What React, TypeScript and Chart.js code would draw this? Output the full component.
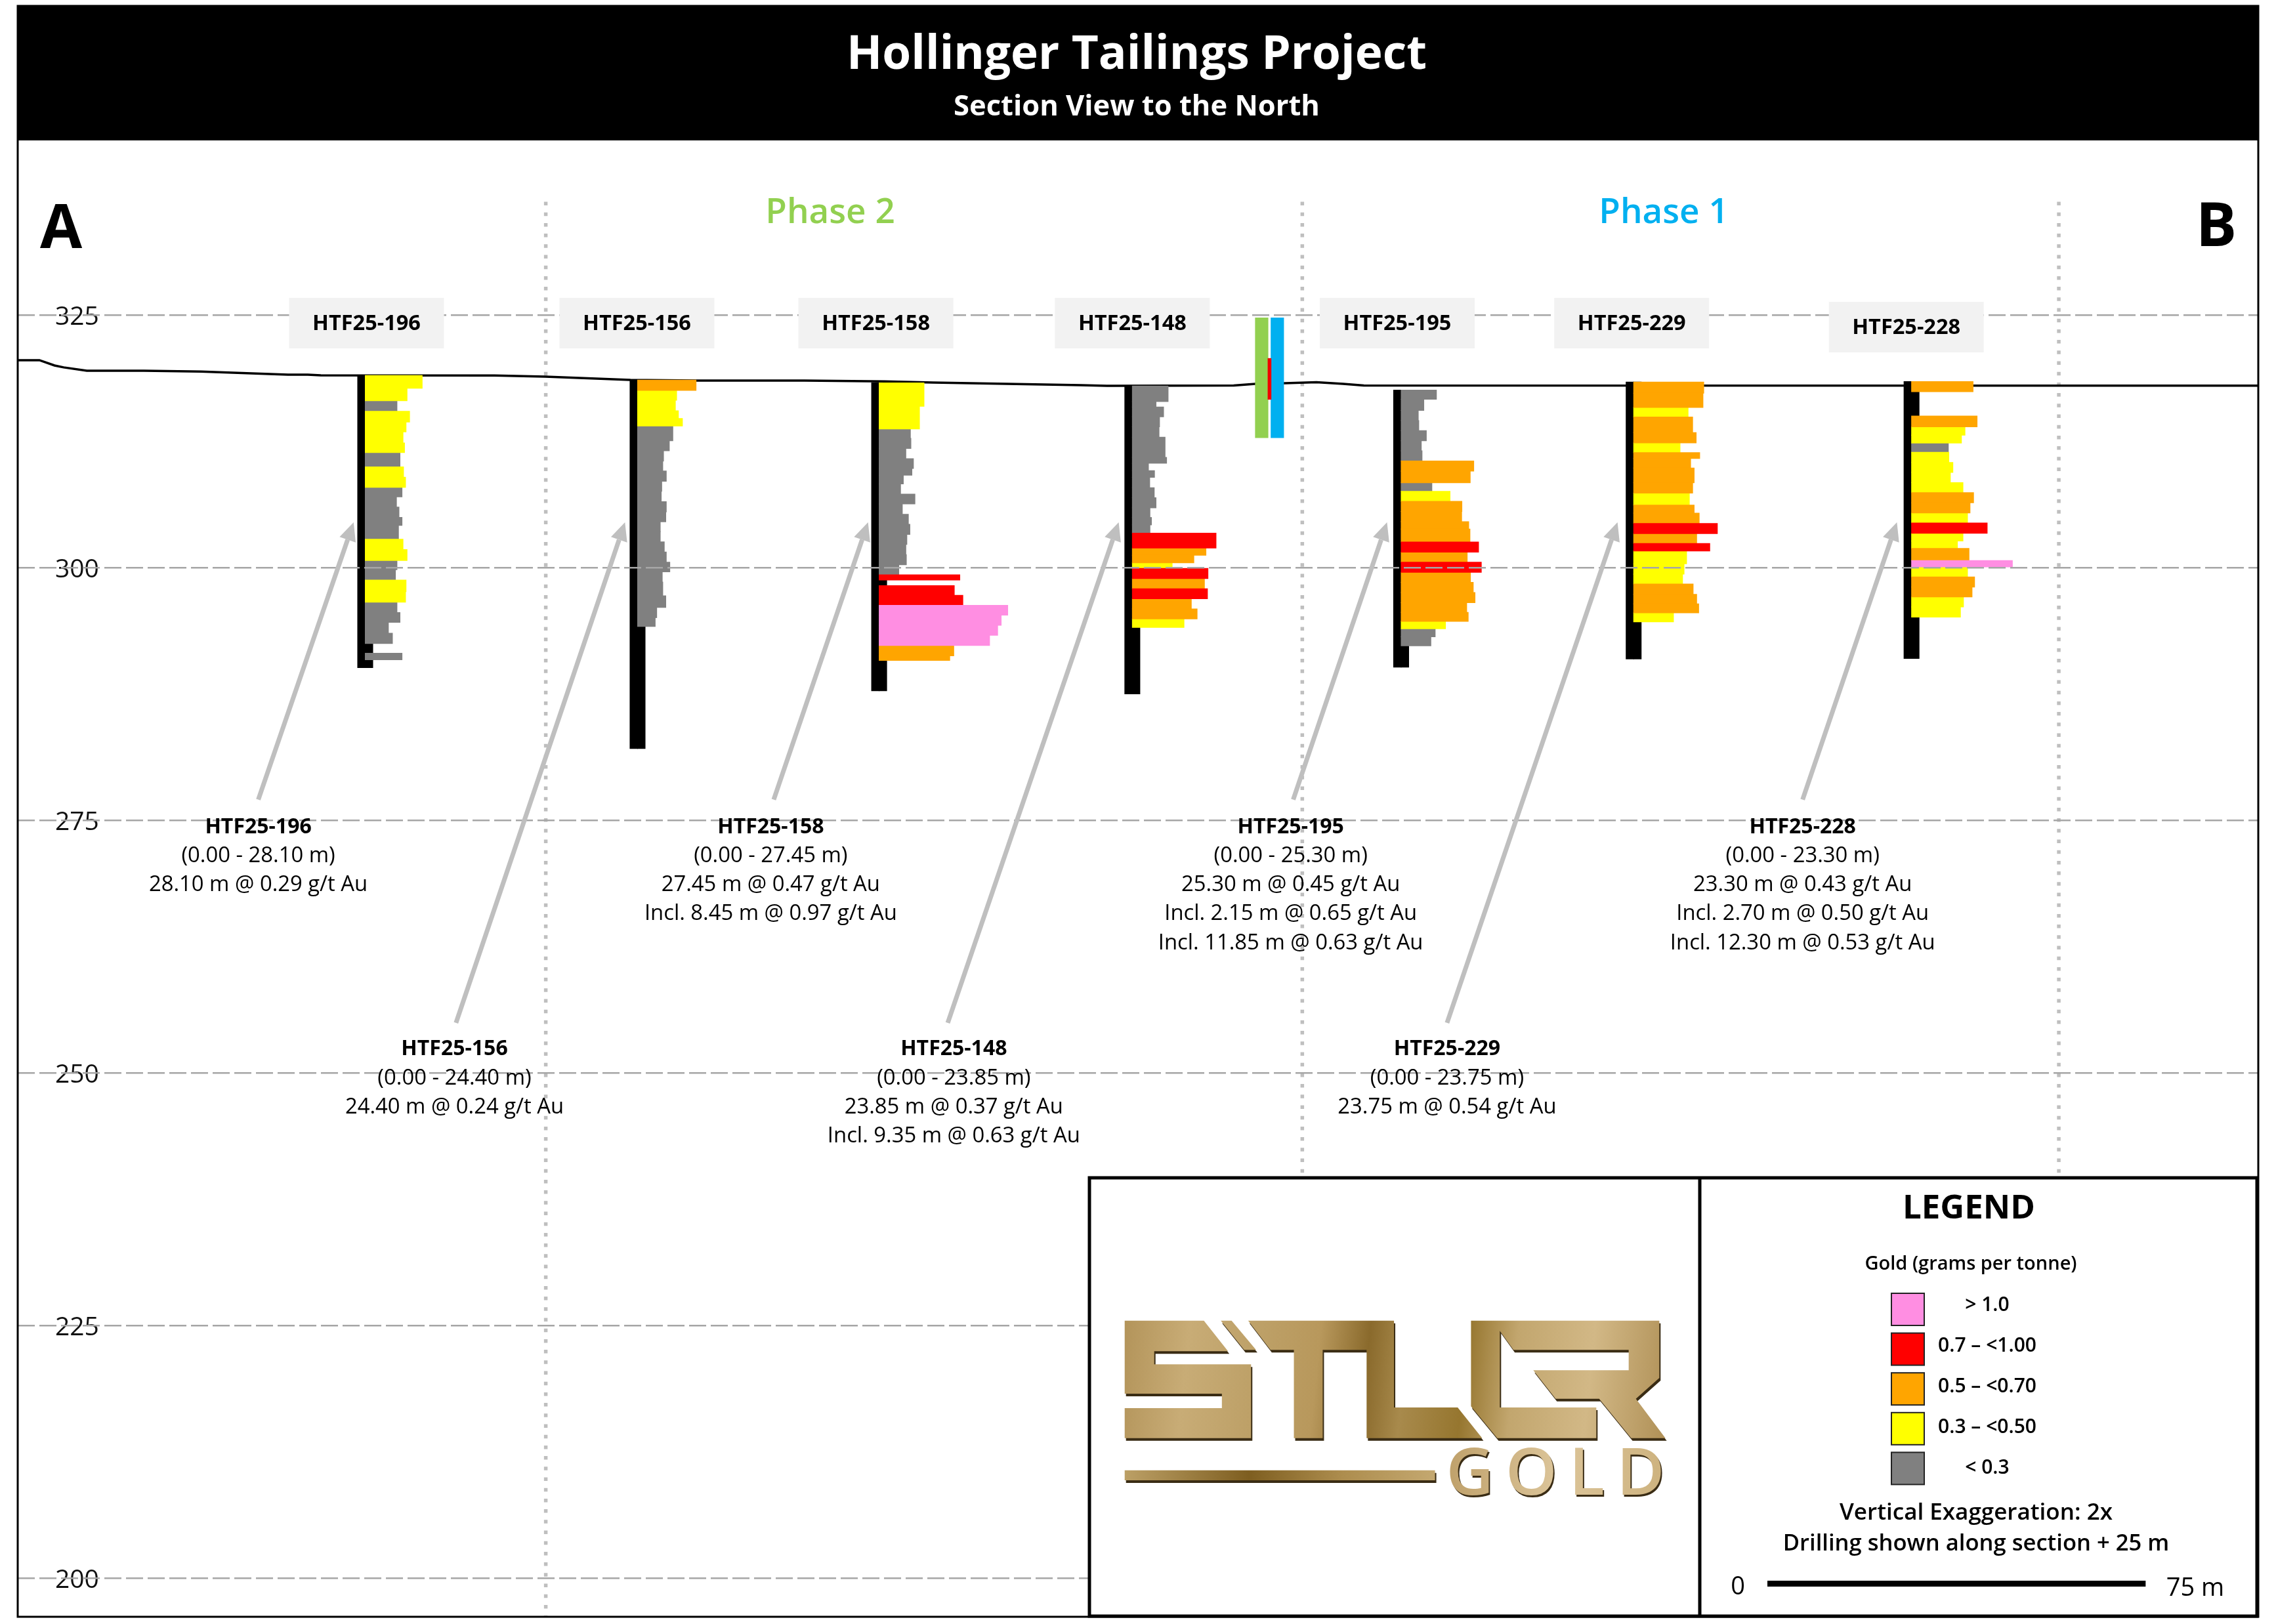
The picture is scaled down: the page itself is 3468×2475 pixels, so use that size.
import React, { useEffect, useRef } from "react";
import { Chart, BarController, registerables } from "chart.js";

// ---------- axis ticks and section lines ----------
const elevationTicks = [325, 300, 275, 250, 225, 200];
const sectionLines = [150, 300, 450];

// ---------- drill holes ----------
const holeNames = ["HTF25-196", "HTF25-156", "HTF25-158", "HTF25-148", "HTF25-195", "HTF25-229", "HTF25-228"];
const holeStation = [114.2, 168.2, 216.1, 266.3, 319.6, 365.7, 420.8];
const holeCollar = [319.0, 318.55, 318.27, 317.97, 317.56, 318.36, 318.4];
const holeBottom = [290.1, 282.1, 287.8, 287.5, 290.14, 290.95, 291.0];

// interval thickness (m), plotted length, grade class (p r o y g, - = no assay)
const h196Thick = [1.26, 1.23, 1.04, 1.08, 0.97, 1.08, 0.97, 1.41, 1.02, 1.0, 0.95, 1.0, 1.02, 0.8, 1.36, 1.02, 1.1, 0.91, 1.02, 1.15, 1.04, 1.02, 0.97, 1.08, 1.02, 0.95, 0.65];
const h196Len = [11.3, 8.3, 6.3, 8.8, 8.1, 7.5, 7.8, 6.9, 7.6, 8.0, 7.3, 6.2, 6.7, 7.3, 6.6, 7.5, 8.3, 6.3, 6.0, 8.1, 8.0, 6.3, 6.9, 4.6, 5.4, 0, 7.3];
const h196Class = "yygyyyygyygggggyyggyygggg-g";

const h156Thick = [1.02, 0.97, 1.04, 0.76, 0.76, 1.45, 1.0, 1.02, 0.97, 1.02, 1.0, 1.02, 1.02, 0.97, 0.97, 1.02, 1.0, 1.0, 0.97, 1.0, 1.36, 1.15, 1.02, 0.87];
const h156Len = [11.6, 7.75, 7.5, 8.1, 8.9, 7.0, 6.3, 5.15, 5.0, 5.7, 4.8, 4.7, 5.7, 5.6, 4.5, 4.5, 5.3, 5.7, 6.4, 4.9, 5.0, 5.6, 3.8, 3.5];
const h156Class = "oyyyyggggggggggggggggggg";

const h158Thick = [2.32, 2.23, 0.93, 1.0, 1.02, 0.97, 0.67, 0.86, 1.0, 0.97, 1.02, 1.0, 1.0, 1.0, 1.0, 1.0, 1.0, 0.51, 0.56, 0.95, 1.0, 0.97, 1.0, 1.0, 1.0, 1.02, 0.46];
const h158Len = [8.9, 8.0, 6.2, 6.3, 5.3, 6.8, 6.5, 4.8, 4.25, 7.1, 4.6, 5.8, 6.1, 5.5, 5.3, 5.4, 3.9, 16.0, 0, 14.9, 16.6, 25.5, 24.2, 23.5, 21.9, 14.8, 14.0];
const h158Class = "yygggggggggggggggr-rrppppoo";

const h148Thick = [1.55, 0.53, 0.97, 1.0, 1.02, 2.0, 0.58, 0.72, 0.67, 1.02, 1.0, 1.0, 0.95, 0.74, 0.81, 1.48, 0.72, 0.74, 0.56, 1.0, 1.0, 1.0, 1.0, 1.0, 0.84];
const h148Len = [7.1, 4.7, 6.2, 5.4, 5.3, 6.5, 6.8, 3.2, 4.4, 3.45, 4.35, 4.7, 3.5, 3.8, 3.5, 16.6, 14.6, 12.2, 7.9, 15.0, 14.3, 14.9, 11.7, 12.85, 10.25];
const h148Class = "gggggggggggggggrooyrorooy";

const h195Thick = [0.9, 1.11, 1.0, 1.0, 1.0, 1.0, 1.0, 1.0, 1.16, 0.84, 1.0, 1.0, 1.0, 0.74, 1.28, 1.0, 1.0, 1.0, 1.0, 1.0, 1.0, 0.97, 0.88, 0.74, 0.79, 0.9];
const h195Len = [7.0, 4.5, 3.4, 3.5, 5.0, 4.0, 4.15, 14.4, 13.7, 6.1, 9.7, 12.05, 12.0, 13.4, 13.65, 15.35, 13.1, 15.9, 13.75, 14.3, 14.65, 13.0, 13.3, 8.8, 6.75, 5.9];
const h195Class = "gggggggoogyoooororoooooygg";

const h229Thick = [1.1, 1.41, 0.95, 1.54, 1.02, 0.97, 0.58, 0.93, 1.47, 1.02, 1.19, 0.8, 1.02, 1.0, 0.97, 0.76, 1.26, 1.02, 0.97, 1.02, 0.95, 0.89, 0.89];
const h229Len = [13.9, 13.75, 10.8, 11.7, 12.4, 9.2, 13.1, 11.3, 12.0, 11.7, 11.05, 12.0, 13.0, 16.6, 12.5, 15.1, 10.5, 10.0, 9.7, 11.8, 12.5, 12.9, 7.9];
const h229Class = "ooyooyooooyoororyyyoooy";

const h228Thick = [1.0, 2.4, 1.08, 0.82, 0.78, 0.91, 1.0, 1.0, 1.0, 1.0, 1.0, 1.0, 1.0, 1.02, 0.76, 0.74, 1.19, 0.63, 1.0, 1.0, 0.97, 1.0, 1.0];
const h228Len = [12.2, 0, 13.0, 10.6, 9.9, 7.3, 7.4, 8.2, 7.7, 10.2, 12.3, 11.6, 11.1, 15.0, 10.2, 9.1, 11.4, 20.0, 11.1, 12.5, 12.0, 10.3, 9.7];
const h228Class = "o-oyygyyyyooyryyopyooyy";

const holeThick = [h196Thick, h156Thick, h158Thick, h148Thick, h195Thick, h229Thick, h228Thick];
const holeLen = [h196Len, h156Len, h158Len, h148Len, h195Len, h229Len, h228Len];
const holeClass = [h196Class, h156Class, h158Class, h148Class, h195Class, h229Class, h228Class];

// ---------- topographic surface ----------
const surfaceStation = [45.3, 49.6, 52.6, 54.4, 59.0, 70.3, 81.6, 98.9, 102.8, 105.4, 139.8, 149.9, 166.8, 180, 201.3, 217.2, 226.8, 256.1, 261.3, 286.4, 290.7, 296.6, 302.8, 308.1, 312.2, 489.6];
const surfaceElev = [320.52, 320.52, 320.0, 319.81, 319.48, 319.48, 319.39, 319.09, 319.09, 319.03, 319.01, 318.9, 318.57, 318.51, 318.51, 318.42, 318.31, 318.05, 317.99, 318.02, 318.18, 318.25, 318.34, 318.18, 318.02, 318.0];

// ---------- callouts ----------
const calloutLines = [
  ["HTF25-196", "(0.00 - 28.10 m)", "28.10 m @ 0.29 g/t Au"],
  ["HTF25-156", "(0.00 - 24.40 m)", "24.40 m @ 0.24 g/t Au"],
  ["HTF25-158", "(0.00 - 27.45 m)", "27.45 m @ 0.47 g/t Au", "Incl. 8.45 m @ 0.97 g/t Au"],
  ["HTF25-148", "(0.00 - 23.85 m)", "23.85 m @ 0.37 g/t Au", "Incl. 9.35 m @ 0.63 g/t Au"],
  ["HTF25-195", "(0.00 - 25.30 m)", "25.30 m @ 0.45 g/t Au", "Incl. 2.15 m @ 0.65 g/t Au", "Incl. 11.85 m @ 0.63 g/t Au"],
  ["HTF25-229", "(0.00 - 23.75 m)", "23.75 m @ 0.54 g/t Au"],
  ["HTF25-228", "(0.00 - 23.30 m)", "23.30 m @ 0.43 g/t Au", "Incl. 2.70 m @ 0.50 g/t Au", "Incl. 12.30 m @ 0.53 g/t Au"],
];
const calloutTextX = [93.0, 131.9, 194.6, 230.9, 297.7, 328.7, 399.2];
const calloutTextElev = [274.45, 252.47, 274.45, 252.47, 274.45, 252.47, 274.45];
const arrowTipX = [111.9, 165.7, 213.9, 263.6, 316.8, 362.5, 417.9];
const arrowTailX = [93.0, 132.2, 195.2, 229.7, 298.2, 328.7, 399.2];
const arrowTailElev = [277.04, 254.94, 277.04, 254.94, 277.04, 254.94, 277.04];
const arrowTipElev = 304.48;

// ---------- legend ----------
const legendLabels = ["> 1.0", "0.7 – <1.00", "0.5 – <0.70", "0.3 – <0.50", "< 0.3"];
const classKeys = ["p", "r", "o", "y", "g"];
const classColors: Record<string, string> = { p: "#FF8EE2", r: "#FF0000", o: "#FFA500", y: "#FFFF00", g: "#808080" };

// ---------- small phase key near the section ----------
const phaseKey = [
  { name: "Phase 2 key", color: "#92D050", x: [290.7, 293.2], top: 324.7, bot: 312.86 },
  { name: "Boundary", color: "#F00000", x: [293.2, 293.8], top: 320.69, bot: 316.65 },
  { name: "Phase 1 key", color: "#00B0F0", x: [293.8, 296.3], top: 324.7, bot: 312.86 },
];

const TRACE_W = 1.5;
const FONT = '"Open Sans"';

class IntervalController extends BarController {
  static id = "interval";
  _calculateBarIndexPixels(index: number) {
    const s = (this as any)._cachedMeta.iScale;
    const d = (this as any).getDataset().data[index];
    const a = s.getPixelForValue(d.top);
    const b = s.getPixelForValue(d.bot);
    return { base: Math.min(a, b), head: Math.max(a, b), center: (a + b) / 2, size: Math.abs(b - a) };
  }
}
Chart.register(...registerables, IntervalController as any);

function buildIntervals() {
  const byClass: Record<string, any[]> = { p: [], r: [], o: [], y: [], g: [] };
  holeNames.forEach((_, h) => {
    let top = holeCollar[h];
    holeThick[h].forEach((t, i) => {
      const c = holeClass[h][i];
      const bot = top - t;
      if (c !== "-" && holeLen[h][i] > 0) {
        byClass[c].push({ x: [holeStation[h], holeStation[h] + holeLen[h][i]], y: (top + bot) / 2, top, bot });
      }
      top = bot;
    });
  });
  return byClass;
}

function txt(ctx: CanvasRenderingContext2D, s: string, x: number, y: number, font: string, color: string, align: CanvasTextAlign = "center") {
  ctx.font = font;
  ctx.fillStyle = color;
  ctx.textAlign = align;
  ctx.textBaseline = "middle";
  ctx.fillText(s, x, y);
}

function drawLogo(ctx: CanvasRenderingContext2D) {
  const X = (z: number) => 1700 + z / 1.823;
  const Y = (z: number) => 2000 + z / 3;
  const polys = [
    [[25, 38], [245, 38], [312, 178], [107, 178], [107, 238], [376, 238], [376, 575], [25, 575], [25, 438], [295, 438], [295, 372], [25, 372]],
    [[292, 38], [322, 38], [390, 172], [357, 172]],
    [[368, 38], [773, 38], [773, 435], [950, 435], [1018, 575], [697, 575], [697, 172], [575, 172], [575, 575], [495, 575], [495, 172], [430, 172]],
    [[987, 38], [1510, 38], [1510, 300], [1445, 395], [1527, 575], [1432, 575], [1343, 395], [1222, 395], [1160, 265], [1425, 265], [1425, 172], [1105, 172], [1067, 85], [1067, 435], [1335, 435], [1335, 575], [1060, 575], [987, 430]],
  ];
  const bar = [[25, 722], [887, 722], [887, 768], [25, 768]];
  const g = ctx.createLinearGradient(X(25), Y(38), X(1530), Y(300));
  g.addColorStop(0, "#B3945A");
  g.addColorStop(0.12, "#C8AC76");
  g.addColorStop(0.25, "#BDA067");
  g.addColorStop(0.36, "#B8985C");
  g.addColorStop(0.45, "#8A6A2C");
  g.addColorStop(0.52, "#A88A4C");
  g.addColorStop(0.63, "#96762F");
  g.addColorStop(0.72, "#C2A66E");
  g.addColorStop(0.86, "#D2B886");
  g.addColorStop(1, "#B2935A");
  const gb = ctx.createLinearGradient(X(25), 0, X(887), 0);
  gb.addColorStop(0, "#BCA066");
  gb.addColorStop(0.4, "#7E5E20");
  gb.addColorStop(0.7, "#AD8D4E");
  gb.addColorStop(1, "#C4A870");
  const gt = ctx.createLinearGradient(X(930), 0, X(1530), 0);
  gt.addColorStop(0, "#C0A26C");
  gt.addColorStop(0.5, "#DCC59A");
  gt.addColorStop(1, "#CDB27E");
  const trace = (p: number[][], dx: number, dy: number) => {
    ctx.beginPath();
    p.forEach(([a, b], i) => (i ? ctx.lineTo(X(a) + dx, Y(b) + dy) : ctx.moveTo(X(a) + dx, Y(b) + dy)));
    ctx.closePath();
    ctx.fill();
  };
  const shape = (p: number[][], fill: CanvasGradient) => {
    ctx.fillStyle = "#3A2C14";
    trace(p, 2, 4);
    ctx.fillStyle = fill;
    trace(p, 0, 0);
  };
  polys.forEach((p) => shape(p, g));
  shape(bar, gb);
  (ctx as any).letterSpacing = "18px";
  ctx.font = `600 100px ${FONT}`;
  ctx.textAlign = "left";
  ctx.textBaseline = "middle";
  ctx.fillStyle = "#3A2C14";
  ctx.fillText("GOLD", X(918) + 2, Y(748) + 3);
  ctx.fillStyle = gt;
  ctx.fillText("GOLD", X(918), Y(748));
  (ctx as any).letterSpacing = "0px";
}

const overlay = {
  id: "overlay",
  afterDraw(chart: any) {
    const ctx: CanvasRenderingContext2D = chart.ctx;
    const sx = chart.scales.x;
    const sy = chart.scales.y;
    const px = (v: number) => sx.getPixelForValue(v);
    const py = (v: number) => sy.getPixelForValue(v);
    ctx.save();

    // header
    ctx.fillStyle = "#000";
    ctx.fillRect(27, 9, 3414, 205);
    txt(ctx, "Hollinger Tailings Project", 1732, 85, `700 71px ${FONT}`, "#fff");
    txt(ctx, "Section View to the North", 1732, 164, `700 43.5px ${FONT}`, "#fff");

    // section marks
    txt(ctx, "A", 93, 351, `700 93px ${FONT}`, "#000");
    txt(ctx, "B", 3377, 348, `700 93px ${FONT}`, "#000");
    txt(ctx, "Phase 2", 1265, 325, `600 53px ${FONT}`, "#92D050");
    txt(ctx, "Phase 1", 2535, 325, `600 53px ${FONT}`, "#00B0F0");

    // hole name boxes
    holeNames.forEach((n, i) => {
      const cx = px(holeStation[i]) + [2, -1, -5, 0, -6, -3, -8][i];
      const top = i === 6 ? 460 : 454;
      ctx.fillStyle = "#F2F2F2";
      ctx.fillRect(cx - 118, top, 236, 77);
      txt(ctx, n, cx, top + 40, `700 32.5px ${FONT}`, "#000");
    });

    // arrows
    arrowTipX.forEach((tx, i) => {
      const x1 = px(tx);
      const y1 = py(arrowTipElev);
      const x0 = px(arrowTailX[i]);
      const y0 = py(arrowTailElev[i]);
      const a = Math.atan2(y1 - y0, x1 - x0);
      const hl = 28;
      const hw = 13;
      const bx = x1 - hl * Math.cos(a);
      const by = y1 - hl * Math.sin(a);
      ctx.strokeStyle = "#BFBFBF";
      ctx.lineWidth = 7;
      ctx.beginPath();
      ctx.moveTo(x0, y0);
      ctx.lineTo(bx, by);
      ctx.stroke();
      ctx.fillStyle = "#BFBFBF";
      ctx.beginPath();
      ctx.moveTo(x1, y1);
      ctx.lineTo(bx - hw * Math.sin(a), by + hw * Math.cos(a));
      ctx.lineTo(bx + hw * Math.sin(a), by - hw * Math.cos(a));
      ctx.closePath();
      ctx.fill();
    });

    // callout text
    calloutLines.forEach((lines, i) => {
      lines.forEach((l, j) => {
        txt(ctx, l, px(calloutTextX[i]), py(calloutTextElev[i]) + 2 + j * 44.2, j === 0 ? `700 32px ${FONT}` : `400 32.8px ${FONT}`, "#000");
      });
    });

    // legend panel
    ctx.fillStyle = "#fff";
    ctx.fillRect(1660, 1795, 1779, 668);
    drawLogo(ctx);
    ctx.strokeStyle = "#000";
    ctx.lineWidth = 5;
    ctx.strokeRect(1660, 1795, 1779, 668);
    ctx.beginPath();
    ctx.moveTo(2590, 1795);
    ctx.lineTo(2590, 2463);
    ctx.stroke();
    txt(ctx, "LEGEND", 3000, 1842, `700 51px ${FONT}`, "#000");
    txt(ctx, "Gold (grams per tonne)", 3003, 1927, `600 29px ${FONT}`, "#000");
    classKeys.forEach((k, i) => {
      const y = 1971 + i * 60.6;
      ctx.fillStyle = classColors[k];
      ctx.fillRect(2882, y, 50, 49);
      ctx.strokeStyle = "#222";
      ctx.lineWidth = 2;
      ctx.strokeRect(2882, y, 50, 49);
      txt(ctx, legendLabels[i], 3028, 1989 + i * 62, `600 30px ${FONT}`, "#000");
    });
    txt(ctx, "Vertical Exaggeration: 2x", 3011, 2306, `600 35px ${FONT}`, "#000");
    txt(ctx, "Drilling shown along section + 25 m", 3011, 2353, `600 34.6px ${FONT}`, "#000");
    const bar0 = 2693;
    const barLen = px(75) - px(0);
    ctx.fillStyle = "#000";
    ctx.fillRect(bar0, 2409, barLen, 9);
    txt(ctx, "0", 2648, 2419, `400 38px ${FONT}`, "#000");
    txt(ctx, "75 m", 3345, 2421, `400 38px ${FONT}`, "#000");

    // frame
    ctx.strokeStyle = "#000";
    ctx.lineWidth = 3;
    ctx.strokeRect(27, 9, 3414, 2455);
    ctx.restore();
  },
};

export default function App() {
  const ref = useRef<HTMLCanvasElement>(null);
  useEffect(() => {
    const iv = buildIntervals();
    const traceLeft = holeNames.map((_, h) => ({
      x: [holeStation[h] - TRACE_W, holeStation[h]],
      y: (holeCollar[h] + holeBottom[h]) / 2,
      top: holeCollar[h],
      bot: holeBottom[h],
    }));
    const traceRight = holeNames.map((_, h) => ({
      x: [holeStation[h], holeStation[h] + TRACE_W],
      y: (holeCollar[h] + holeBottom[h]) / 2,
      top: holeCollar[h],
      bot: holeBottom[h],
    }));
    const intervalDs = (label: string, data: any[], color: string, order: number) => ({
      type: "interval",
      label,
      data,
      indexAxis: "y",
      xAxisID: "x",
      yAxisID: "y",
      backgroundColor: color,
      borderWidth: 0,
      inflateAmount: 0.5,
      order,
    });
    const chart = new Chart(ref.current as HTMLCanvasElement, {
      type: "line",
      data: {
        datasets: [
          ...sectionLines.map((s) => ({
            type: "line",
            label: "Section " + s,
            data: [{ x: s, y: 336.2 }, { x: s, y: 196.2 }],
            borderColor: "#BFBFBF",
            borderWidth: 5.5,
            borderDash: [5.5, 10.7],
            pointRadius: 0,
            order: 9,
          })),
          {
            type: "line",
            label: "Surface",
            data: surfaceStation.map((x, i) => ({ x, y: surfaceElev[i] })),
            borderColor: "#000",
            borderWidth: 3.5,
            pointRadius: 0,
            tension: 0,
            order: 8,
          },
          intervalDs("Drill trace", traceLeft, "#000", 7),
          intervalDs("Drill trace 2", traceRight, "#000", 6),
          intervalDs("< 0.3", iv.g, classColors.g, 5),
          intervalDs("0.3 – <0.50", iv.y, classColors.y, 4),
          intervalDs("0.5 – <0.70", iv.o, classColors.o, 3),
          intervalDs("0.7 – <1.00", iv.r, classColors.r, 2),
          intervalDs("> 1.0", iv.p, classColors.p, 1),
          ...phaseKey.map((k, i) =>
            intervalDs(k.name, [{ x: k.x, y: (k.top + k.bot) / 2, top: k.top, bot: k.bot }], k.color, i === 1 ? 0 : 1)
          ),
        ] as any,
      },
      options: {
        responsive: false,
        maintainAspectRatio: false,
        animation: false,
        devicePixelRatio: 1,
        layout: { padding: { left: 27, right: 27, top: 214, bottom: 11 } },
        plugins: { legend: { display: false }, tooltip: { enabled: false } },
        scales: {
          x: { type: "linear", display: false, min: 45.3, max: 489.55, offset: false, grid: { display: false } },
          y: {
            type: "linear",
            min: 196.17,
            max: 342.27,
            offset: false,
            position: "left",
            afterFit: (s: any) => {
              s.width = 0;
              s.paddingTop = 0;
              s.paddingBottom = 0;
            },
            afterBuildTicks: (s: any) => {
              s.ticks = elevationTicks.map((value) => ({ value }));
            },
            grid: { offset: false, z: 1, color: "#A6A6A6", lineWidth: 2.5, drawTicks: false },
            border: { display: false, dash: [26, 7] },
            ticks: {
              mirror: true,
              padding: 57,
              labelOffset: 4,
              color: "#111",
              font: { family: "Open Sans", size: 39, weight: "400" },
            },
          },
        },
      } as any,
      plugins: [overlay as any],
    } as any);
    return () => chart.destroy();
  }, []);
  return (
    <div style={{ position: "absolute", left: 0, top: 0, width: 3468, height: 2475, background: "#fff" }}>
      <canvas ref={ref} width={3468} height={2475} style={{ display: "block", width: 3468, height: 2475 }} />
    </div>
  );
}
